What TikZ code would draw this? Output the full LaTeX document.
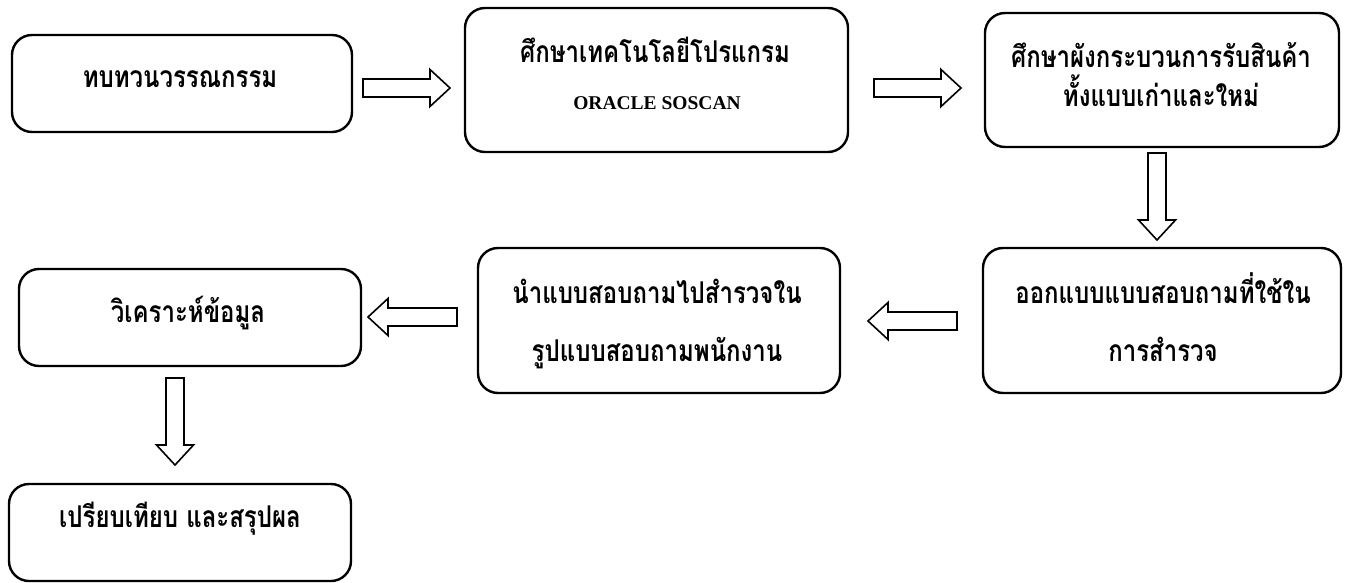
\documentclass[tikz,border=0pt]{standalone}
\usepackage{fontspec}
\usetikzlibrary{calc}
\newfontfamily\thaifont[Script=Thai, FakeStretch=0.8]{Loma}
\setmainfont{Liberation Serif}
\tikzset{
  box/.style={draw, line width=2.4pt, rounded corners=20pt, inner sep=0pt},
  txt/.style={anchor=base, inner sep=0pt, font=\thaifont\bfseries\fontsize{30}{34}\selectfont},
  latin/.style={anchor=base, inner sep=0pt, font=\rmfamily\bfseries\fontsize{19.5}{22}\selectfont},
  blockarr/.style={draw, line width=1.6pt, fill=white, line join=miter},
}
\newcommand\blockarrow[3]{%
  \coordinate (#1-h) at ($(#3)!20pt!(#2)$);
  \draw[blockarr] ($(#2)!9pt!90:(#3)$) -- ($(#1-h)!9pt!90:(#3)$)
    -- ($(#1-h)!18.5pt!90:(#3)$) -- (#3) -- ($(#1-h)!18.5pt!-90:(#3)$)
    -- ($(#1-h)!9pt!-90:(#3)$) -- ($(#2)!9pt!-90:(#3)$) -- cycle;}
\begin{document}
\begin{tikzpicture}[x=1pt,y=-1pt]
\useasboundingbox (0,0) rectangle (1351,583);
% boxes
\node[box, minimum width=340pt, minimum height=97pt]  (b1) at (182,83.5) {};
\node[box, minimum width=383pt, minimum height=144pt] (b2) at (656.5,80) {};
\node[box, minimum width=354pt, minimum height=134pt] (b3) at (1162,80) {};
\node[box, minimum width=358pt, minimum height=145pt] (b4) at (1162,320.5) {};
\node[box, minimum width=362pt, minimum height=145pt] (b5) at (659,320.5) {};
\node[box, minimum width=342pt, minimum height=97pt]  (b6) at (190,317.5) {};
\node[box, minimum width=342pt, minimum height=97pt]  (b7) at (180,532.5) {};
% texts
\node[txt] (t1)  at (180,88)   {ทบทวนวรรณกรรม};
\node[txt] (t2a) at (655,63)   {ศึกษาเทคโนโลยีโปรแกรม};
\node[latin] (t2b) at (657,110) {ORACLE SOSCAN};
\node[txt] (t3a) at (1161,68)  {ศึกษาผังกระบวนการรับสินค้า};
\node[txt] (t3b) at (1161,107) {ทั้งแบบเก่าและใหม่};
\node[txt] (t4a) at (1163,303) {ออกแบบแบบสอบถามที่ใช้ใน};
\node[txt] (t4b) at (1163,361) {การสำรวจ};
\node[txt] (t5a) at (657,303)  {นำแบบสอบถามไปสำรวจใน};
\node[txt] (t5b) at (657,361)  {รูปแบบสอบถามพนักงาน};
\node[txt] (t6)  at (188,322)  {วิเคราะห์ข้อมูล};
\node[txt] (t7)  at (180,527)  {เปรียบเทียบ และสรุปผล};
% arrow end points
\coordinate (a1s) at (363,88);   \coordinate (a1t) at (450,88);
\coordinate (a2s) at (874,88);   \coordinate (a2t) at (961,88);
\coordinate (a3s) at (1157,153); \coordinate (a3t) at (1157,240);
\coordinate (a4s) at (957,321);  \coordinate (a4t) at (868,321);
\coordinate (a5s) at (457,317);  \coordinate (a5t) at (368,317);
\coordinate (a6s) at (175,378);  \coordinate (a6t) at (175,465);
\blockarrow{a1}{a1s}{a1t}
\blockarrow{a2}{a2s}{a2t}
\blockarrow{a3}{a3s}{a3t}
\blockarrow{a4}{a4s}{a4t}
\blockarrow{a5}{a5s}{a5t}
\blockarrow{a6}{a6s}{a6t}
\end{tikzpicture}
\end{document}
